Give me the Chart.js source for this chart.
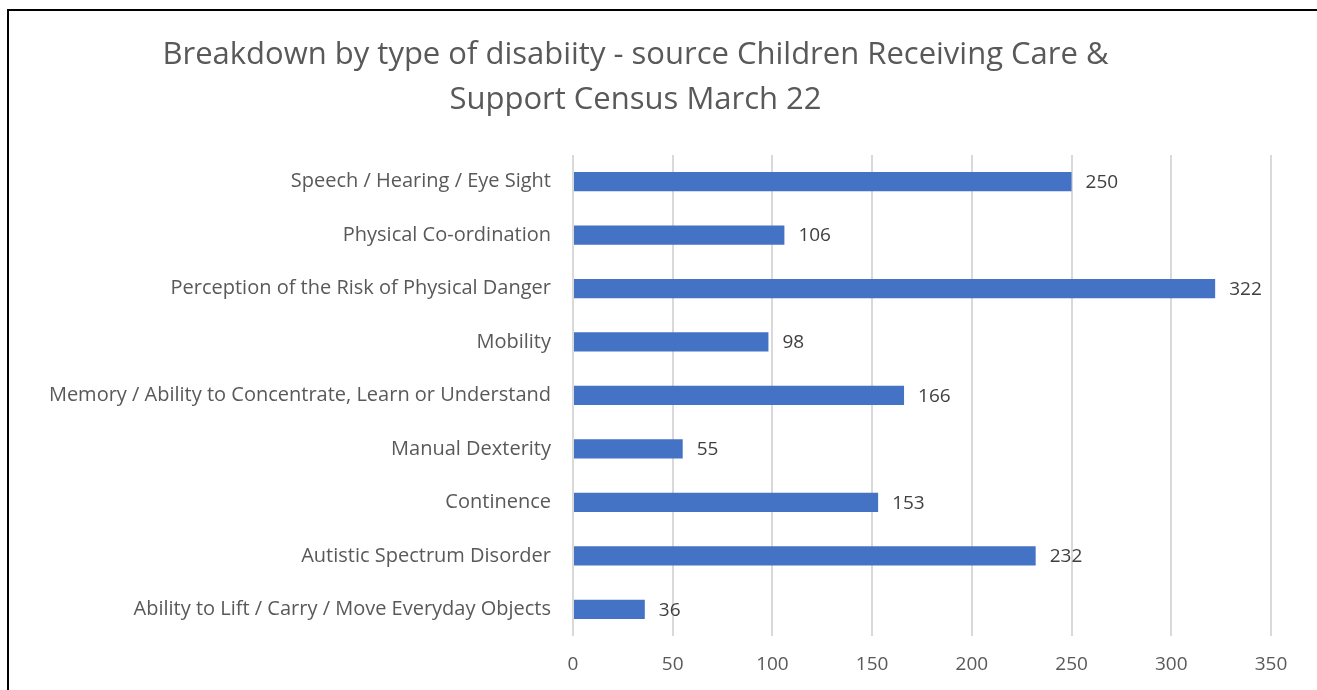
<!DOCTYPE html>
<html>
<head>
<meta charset="utf-8">
<script src="https://cdn.jsdelivr.net/npm/chart.js@4/dist/chart.umd.min.js"></script>
<style>
  html, body { margin: 0; padding: 0; overflow: hidden; background: #fff; }
  #wrap { position: relative; width: 1317px; height: 690px; }
  #frame { position: absolute; left: 7px; top: 9px; width: 1400px; height: 800px; border: 2px solid #000; box-sizing: border-box; }
  canvas { position: absolute; left: 0; top: 0; }
</style>
</head>
<body>
<div id="wrap">
  <div id="frame"></div>
  <canvas id="disabilityChart" width="1317" height="690"></canvas>
</div>
<script>
// Data
const categories = [
    'Speech / Hearing / Eye Sight',
    'Physical Co-ordination',
    'Perception of the Risk of Physical Danger',
    'Mobility',
    'Memory / Ability to Concentrate, Learn or Understand',
    'Manual Dexterity',
    'Continence',
    'Autistic Spectrum Disorder',
    'Ability to Lift / Carry / Move Everyday Objects'
];
const counts = [250, 106, 322, 98, 166, 55, 153, 232, 36];
const xTicks = [0, 50, 100, 150, 200, 250, 300, 350];

const chartTitle = ['Breakdown by type of disabiity - source Children Receiving Care &', 'Support Census March 22'];

const FONT = '"Open Sans", sans-serif';

// Simple value labels at the end of each bar
const barLabels = {
    id: 'barLabels',
    afterDatasetsDraw(chart) {
        const ctx = chart.ctx;
        const meta = chart.getDatasetMeta(0);
        ctx.save();
        ctx.font = '19px ' + FONT;
        ctx.fillStyle = '#404040';
        ctx.textAlign = 'left';
        ctx.textBaseline = 'middle';
        meta.data.forEach((bar, i) => {
            ctx.fillText(counts[i], bar.x + 14, bar.y + 1);
        });
        ctx.restore();
    }
};

const ctx = document.getElementById('disabilityChart');

new Chart(ctx, {
    type: 'bar',
    data: {
        labels: categories,
        datasets: [{
            data: counts,
            backgroundColor: '#4472C4',
            barPercentage: 0.72,
            categoryPercentage: 0.5
        }]
    },
    options: {
        indexAxis: 'y',
        responsive: false,
        animation: false,
        layout: {
            padding: { left: 0, right: 46, top: 0, bottom: 0 }
        },
        plugins: {
            legend: { display: false },
            tooltip: { enabled: false },
            title: {
                display: true,
                text: chartTitle,
                color: '#595959',
                font: { family: FONT, size: 31, weight: 'normal', lineHeight: 1.45 },
                padding: { top: 33, bottom: 32 }
            }
        },
        scales: {
            x: {
                min: 0,
                max: 350,
                afterBuildTicks: function(scale) {
                    scale.ticks = xTicks.map(v => ({ value: v }));
                },
                grid: {
                    color: '#d9d9d9',
                    lineWidth: 2,
                    drawTicks: false
                },
                border: { display: false },
                ticks: {
                    color: '#595959',
                    font: { family: FONT, size: 19 },
                    padding: 17
                },
                afterFit: function(scale) {
                    scale.height = 54;
                }
            },
            y: {
                grid: { display: false, drawTicks: false },
                border: { display: false },
                ticks: {
                    color: '#595959',
                    font: { family: FONT, size: 20 },
                    padding: 22,
                    autoSkip: false
                },
                afterFit: function(scale) {
                    scale.width = 573;
                }
            }
        }
    },
    plugins: [barLabels]
});
</script>
</body>
</html>
